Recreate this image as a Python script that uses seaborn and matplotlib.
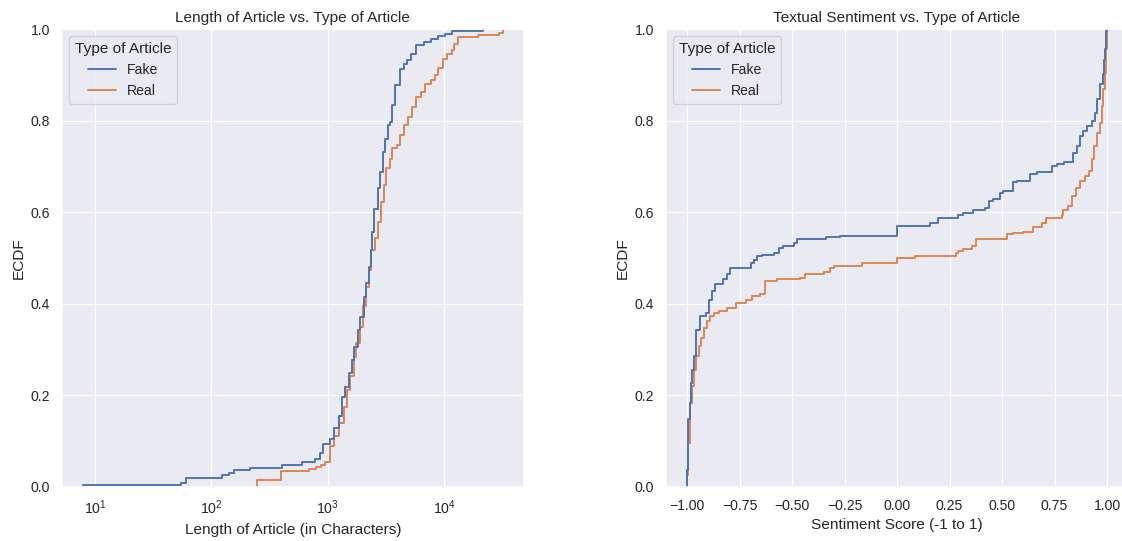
import numpy as np
import pandas as pd
import seaborn as sns
import matplotlib.pyplot as plt

# ECDF steps: value where the curve jumps, level after the jump
fake_len = [7.9, 55, 61, 124, 142, 156, 213, 405, 602, 783, 852, 912, 1038, 1125, 1242,
            1327, 1417, 1513, 1616, 1690, 1805, 1903, 2032, 2143, 2245, 2351, 2395, 2506,
            2677, 2823, 2977, 3116, 3262, 3438, 3555, 3796, 4131, 4476, 4783, 5178, 5745,
            6730, 7680, 8920, 10180, 11620, 21700]
fake_len_cdf = [0.0044, 0.008, 0.020, 0.0255, 0.031, 0.0356, 0.041, 0.0466, 0.0546, 0.0605,
                0.0735, 0.093, 0.105, 0.128, 0.154, 0.197, 0.217, 0.248, 0.277, 0.306, 0.343,
                0.372, 0.4155, 0.445, 0.481, 0.517, 0.557, 0.608, 0.652, 0.688, 0.732, 0.761,
                0.790, 0.798, 0.834, 0.878, 0.914, 0.925, 0.932, 0.947, 0.965, 0.972, 0.978,
                0.985, 0.990, 0.996, 1.0]

real_len = [248, 393, 687, 798, 875, 941, 1052, 1125, 1242, 1371, 1465, 1564, 1668, 1758,
            1878, 2006, 2143, 2260, 2366, 2558, 2697, 2878, 3014, 3178, 3391, 3555, 3922,
            4188, 4476, 4844, 5280, 5745, 6300, 6855, 7670, 8350, 8920, 9720, 10520, 11620,
            12150, 13250, 19630, 29700, 31740]
real_len_cdf = [0.0153, 0.035, 0.0386, 0.042, 0.048, 0.055, 0.088, 0.110, 0.139, 0.175,
                0.212, 0.241, 0.2845, 0.314, 0.350, 0.394, 0.437, 0.474, 0.517, 0.543, 0.579,
                0.623, 0.659, 0.696, 0.7175, 0.7395, 0.747, 0.7686, 0.790, 0.8085, 0.830,
                0.852, 0.863, 0.881, 0.889, 0.8996, 0.9155, 0.936, 0.947, 0.954, 0.969,
                0.983, 0.988, 0.992, 1.0]

fake_sent = [-0.9995, -0.998, -0.995, -0.9886, -0.9838, -0.9758, -0.968, -0.9567, -0.941,
             -0.9125, -0.897, -0.881, -0.865, -0.829, -0.810, -0.794, -0.697, -0.683, -0.667,
             -0.643, -0.588, -0.564, -0.543, -0.493, -0.477, -0.337, -0.274, 0.0, 0.157,
             0.197, 0.292, 0.316, 0.360, 0.419, 0.439, 0.458, 0.490, 0.506, 0.5535, 0.5726,
             0.633, 0.665, 0.736, 0.763, 0.7946, 0.836, 0.855, 0.871, 0.8865, 0.9025, 0.926,
             0.942, 0.950, 0.966, 0.979, 0.985, 0.991, 0.997, 0.9985]
fake_sent_cdf = [0.037, 0.088, 0.147, 0.183, 0.227, 0.256, 0.285, 0.3435, 0.3726, 0.380,
                 0.409, 0.427, 0.444, 0.453, 0.464, 0.4786, 0.4895, 0.4967, 0.504, 0.5055,
                 0.511, 0.522, 0.526, 0.533, 0.5405, 0.545, 0.549, 0.571, 0.577, 0.588, 0.593,
                 0.599, 0.6046, 0.610, 0.6243, 0.628, 0.6426, 0.6455, 0.666, 0.668, 0.6827,
                 0.688, 0.701, 0.706, 0.7097, 0.7287, 0.7447, 0.766, 0.777, 0.788, 0.799,
                 0.8177, 0.847, 0.880, 0.9015, 0.934, 0.956, 0.996, 1.0]

real_sent = [-0.999, -0.997, -0.9886, -0.984, -0.976, -0.968, -0.960, -0.944, -0.933, -0.920,
             -0.907, -0.891, -0.873, -0.849, -0.809, -0.765, -0.722, -0.690, -0.654, -0.627,
             -0.571, -0.461, -0.437, -0.350, -0.321, -0.299, -0.167, 0.0, 0.086, 0.281,
             0.292, 0.316, 0.356, 0.376, 0.522, 0.5535, 0.598, 0.6457, 0.6885, 0.709, 0.7836,
             0.7915, 0.815, 0.831, 0.852, 0.871, 0.8945, 0.915, 0.926, 0.937, 0.950, 0.966,
             0.975, 0.981, 0.9895, 0.9943, 0.9976, 0.999]
real_sent_cdf = [0.026, 0.0956, 0.147, 0.183, 0.2195, 0.256, 0.285, 0.307, 0.325, 0.347,
                 0.362, 0.3726, 0.380, 0.3836, 0.391, 0.402, 0.409, 0.4165, 0.422, 0.449,
                 0.453, 0.4567, 0.464, 0.469, 0.4786, 0.4836, 0.4895, 0.5004, 0.504, 0.511,
                 0.515, 0.520, 0.526, 0.542, 0.5514, 0.555, 0.5565, 0.568, 0.577, 0.588,
                 0.595, 0.606, 0.613, 0.635, 0.6536, 0.668, 0.679, 0.690, 0.7155, 0.745,
                 0.774, 0.796, 0.832, 0.869, 0.905, 0.956, 0.993, 1.0]


def step_frame(vals, levels, label):
  # each jump of the curve becomes one weighted observation
  w = np.diff(np.r_[0, levels])
  return pd.DataFrame({'value': vals, 'weight': w, 'Type of Article': label})


len_df = pd.concat([step_frame(fake_len, fake_len_cdf, 'Fake'),
                    step_frame(real_len, real_len_cdf, 'Real')], ignore_index=True)
sent_df = pd.concat([step_frame(fake_sent, fake_sent_cdf, 'Fake'),
                     step_frame(real_sent, real_sent_cdf, 'Real')], ignore_index=True)

sns.set_theme()
plt.rcParams['font.family'] = ['Liberation Sans', 'DejaVu Sans']

DPI = 92
fig, axes = plt.subplots(1, 2, figsize=(1122 / DPI, 541 / DPI), dpi=DPI)
fig.subplots_adjust(left=0.0553, right=1.0052, bottom=0.1004, top=0.9458, wspace=0.309)

ax = sns.ecdfplot(data=len_df, x='value', weights='weight', hue='Type of Article',
                  hue_order=['Fake', 'Real'], log_scale=True, ax=axes[0])
ax.set_xlabel('Length of Article (in Characters)')
ax.set_ylabel('ECDF')
ax.set_title('Length of Article vs. Type of Article')
sns.move_legend(ax, 'upper left')

ax = sns.ecdfplot(data=sent_df, x='value', weights='weight', hue='Type of Article',
                  hue_order=['Fake', 'Real'], ax=axes[1])
ax.set_xlabel('Sentiment Score (-1 to 1)')
ax.set_ylabel('ECDF')
ax.set_title('Textual Sentiment vs. Type of Article')
sns.move_legend(ax, 'upper left')

fig.savefig('out.png', dpi=DPI)
